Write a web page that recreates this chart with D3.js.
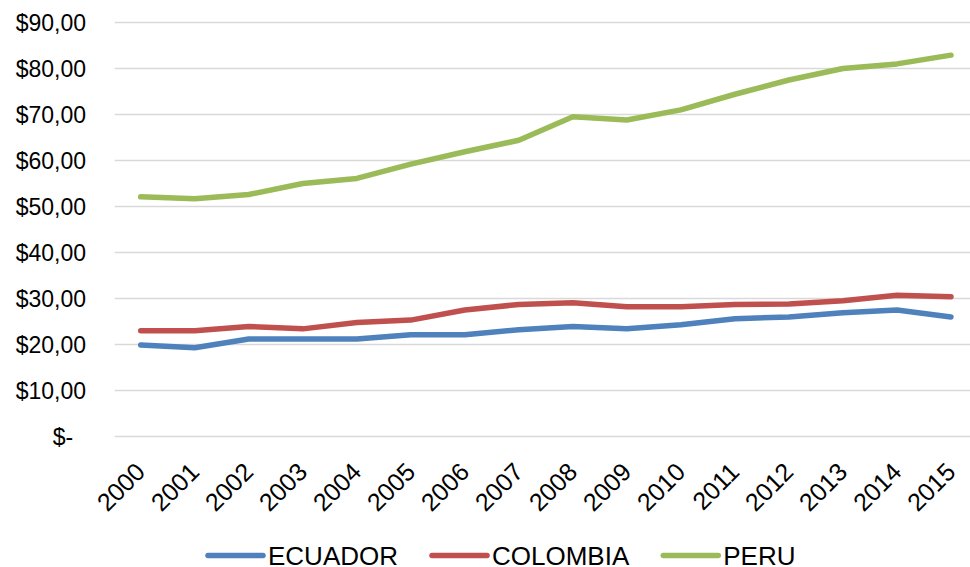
<!DOCTYPE html>
<html>
<head>
<meta charset="utf-8">
<script src="https://cdn.jsdelivr.net/npm/d3@7"></script>
<style>
  html, body { margin: 0; padding: 0; background: #fff; }
  svg { display: block; font-family: 'Liberation Sans', Arial, sans-serif; }
</style>
</head>
<body>
<div id="chart"></div>
<script>
// data
const years = ['2000','2001','2002','2003','2004','2005','2006','2007',
               '2008','2009','2010','2011','2012','2013','2014','2015'];
const ecuador  = [19.9, 19.3, 21.2, 21.2, 21.2, 22.1, 22.1, 23.2, 23.9, 23.4, 24.3, 25.6, 26.0, 26.9, 27.5, 26.0];
const colombia = [23.0, 23.0, 23.9, 23.4, 24.8, 25.3, 27.5, 28.7, 29.1, 28.2, 28.2, 28.7, 28.8, 29.5, 30.7, 30.4];
const peru     = [52.1, 51.7, 52.6, 55.0, 56.1, 59.2, 61.9, 64.4, 69.5, 68.8, 71.0, 74.4, 77.5, 80.0, 81.0, 82.9];
const yTicks = [0, 10, 20, 30, 40, 50, 60, 70, 80, 90];

const series = [
  { name: 'ECUADOR',  values: ecuador,  color: '#4F81BD' },
  { name: 'COLOMBIA', values: colombia, color: '#C0504D' },
  { name: 'PERU',     values: peru,     color: '#9BBB59' }
];

const width = 970, height = 567;
const plot = { left: 113.7, right: 978, top: 22.5, bottom: 436.5 };

const svg = d3.select('#chart').append('svg')
  .attr('width', width)
  .attr('height', height);

const x = d3.scalePoint()
  .domain(years)
  .range([plot.left, plot.right])
  .padding(0.5);

const y = d3.scaleLinear()
  .domain([0, 90])
  .range([plot.bottom, plot.top]);

// gridlines
svg.append('g')
  .selectAll('line')
  .data(yTicks)
  .join('line')
  .attr('x1', plot.left + 1)
  .attr('x2', plot.right)
  .attr('y1', d => y(d))
  .attr('y2', d => y(d))
  .attr('stroke', '#d9d9d9')
  .attr('stroke-width', 1.4);

// y labels (accounting style)
const fmt = d => d === 0 ? '$-\u00a0\u00a0' : '$' + d3.format('.2f')(d).replace('.', ',');
svg.append('g')
  .selectAll('text')
  .data(yTicks)
  .join('text')
  .attr('x', 86)
  .attr('y', d => y(d))
  .attr('dy', '0.36em')
  .attr('text-anchor', 'end')
  .style('font-size', '23px')
  .style('fill', '#000')
  .text(fmt);

// x labels, rotated
svg.append('g')
  .selectAll('text')
  .data(years)
  .join('text')
  .attr('transform', d => `translate(${x(d) + 6}, ${plot.bottom + 37}) rotate(-45)`)
  .attr('text-anchor', 'end')
  .style('font-size', '25px')
  .style('fill', '#000')
  .text(d => d);

// lines
const line = d3.line()
  .x((d, i) => x(years[i]))
  .y(d => y(d));

svg.append('g')
  .selectAll('path')
  .data(series)
  .join('path')
  .attr('d', d => line(d.values))
  .attr('fill', 'none')
  .attr('stroke', d => d.color)
  .attr('stroke-width', 5.5)
  .attr('stroke-linecap', 'round')
  .attr('stroke-linejoin', 'round');

// legend
const legend = svg.append('g');
const legendY = 555.5;
let lx = 208;
series.forEach(s => {
  legend.append('line')
    .attr('x1', lx)
    .attr('x2', lx + 55)
    .attr('y1', legendY)
    .attr('y2', legendY)
    .attr('stroke', s.color)
    .attr('stroke-width', 5.5)
    .attr('stroke-linecap', 'round');
  const t = legend.append('text')
    .attr('x', lx + 60)
    .attr('y', legendY)
    .attr('dy', '0.36em')
    .style('font-size', '26px')
    .style('fill', '#000')
    .text(s.name);
  lx += 60 + t.node().getComputedTextLength() + 34;
});
</script>
</body>
</html>
